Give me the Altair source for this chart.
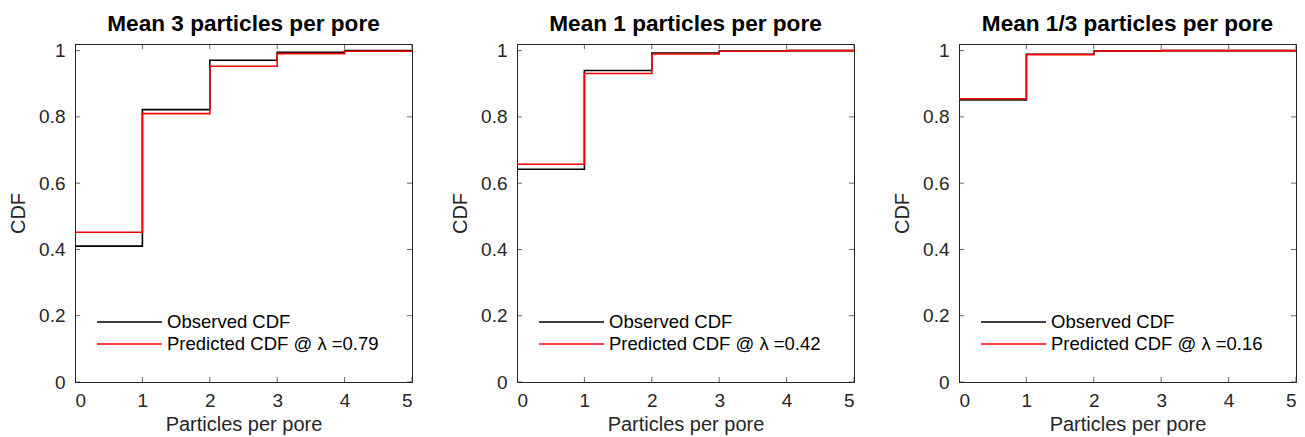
import altair as alt
import pandas as pd

# ---- data ----
particles = [0, 1, 2, 3, 4, 5]
titles = ["Mean 3 particles per pore", "Mean 1 particles per pore", "Mean 1/3 particles per pore"]
lambdas = ["0.79", "0.42", "0.16"]
observed_3 = [0.410, 0.822, 0.971, 0.995, 1.000, 1.000]
predicted_3 = [0.452, 0.810, 0.953, 0.991, 0.998, 1.000]
observed_1 = [0.642, 0.940, 0.993, 0.999, 1.000, 1.000]
predicted_1 = [0.657, 0.931, 0.990, 0.998, 1.000, 1.000]
observed_13 = [0.851, 0.989, 0.999, 1.000, 1.000, 1.000]
predicted_13 = [0.855, 0.988, 0.999, 1.000, 1.000, 1.000]
x_ticks = [0, 1, 2, 3, 4, 5]
y_ticks = [0, 0.2, 0.4, 0.6, 0.8, 1.0]

W, H = 337, 338
FONT = "Liberation Sans"
AX = "#262626"


def x_enc():
    return alt.X("x:Q", scale=alt.Scale(domain=[0, 5], nice=False, zero=False),
                 axis=alt.Axis(values=x_ticks, format="d", title="Particles per pore"))


def y_enc():
    return alt.Y("y:Q", scale=alt.Scale(domain=[0, 1.02], nice=False),
                 axis=alt.Axis(values=y_ticks, format=".1~f", title="CDF"))


def panel(title, obs, pred, lam):
    obs_lab = "Observed CDF"
    pred_lab = f"Predicted CDF @ λ =" + lam
    rows = []
    for xv, yv in zip(particles, obs):
        rows.append({"x": xv, "y": yv, "series": obs_lab, "k": 0})
    for xv, yv in zip(particles, pred):
        rows.append({"x": xv, "y": yv, "series": pred_lab, "k": 1})
    df = pd.DataFrame(rows)

    lines = alt.Chart(df).mark_line(interpolate="step-after", strokeWidth=1.6).encode(
        x=x_enc(),
        y=y_enc(),
        color=alt.Color("series:N",
                        scale=alt.Scale(domain=[obs_lab, pred_lab], range=["#000000", "#ff0000"]),
                        legend=alt.Legend(title=None, orient="none", legendX=21, legendY=267,
                                          symbolType="stroke", symbolSize=4225,
                                          symbolStrokeWidth=1.6, clipHeight=22, rowPadding=0,
                                          labelFontSize=18.5, labelFont=FONT, labelColor="#000000",
                                          labelOffset=4, padding=0, labelLimit=400)),
        order=alt.Order("k:Q"),
    )

    xt = pd.DataFrame({"x": x_ticks})
    yt = pd.DataFrame({"y": y_ticks})
    tick_style = dict(size=10, thickness=1, color=AX, clip=True)
    xb = alt.Chart(xt).mark_tick(orient="vertical", **tick_style).encode(x=x_enc(), y=alt.value(H))
    xtp = alt.Chart(xt).mark_tick(orient="vertical", **tick_style).encode(x=x_enc(), y=alt.value(0))
    yl = alt.Chart(yt).mark_tick(orient="horizontal", **tick_style).encode(y=y_enc(), x=alt.value(0))
    yr = alt.Chart(yt).mark_tick(orient="horizontal", **tick_style).encode(y=y_enc(), x=alt.value(W))

    return alt.layer(xb, xtp, yl, yr, lines).properties(
        width=W, height=H,
        title=alt.TitleParams(title, fontSize=22.6, fontWeight="bold", font=FONT,
                              color="#000000", offset=6, anchor="middle"),
    )


chart = alt.hconcat(
    panel(titles[0], observed_3, predicted_3, lambdas[0]),
    panel(titles[1], observed_1, predicted_1, lambdas[1]),
    panel(titles[2], observed_13, predicted_13, lambdas[2]),
    spacing=34,
).resolve_scale(color="independent").resolve_legend(color="independent").properties(
    padding={"left": 8, "top": 12, "right": 0, "bottom": 0},
    background="white",
).configure_view(
    stroke=AX, strokeWidth=1
).configure_axis(
    grid=False, ticks=False, domainColor=AX, domainWidth=1,
    labelFont=FONT, titleFont=FONT, labelFontSize=19, titleFontSize=20,
    labelColor=AX, titleColor=AX, titleFontWeight="normal",
).configure_axisX(
    labelPadding=9, titlePadding=4
).configure_axisY(
    labelPadding=10, titlePadding=10
)

chart.save("out.html", embed_options={"renderer": "svg", "actions": False})
